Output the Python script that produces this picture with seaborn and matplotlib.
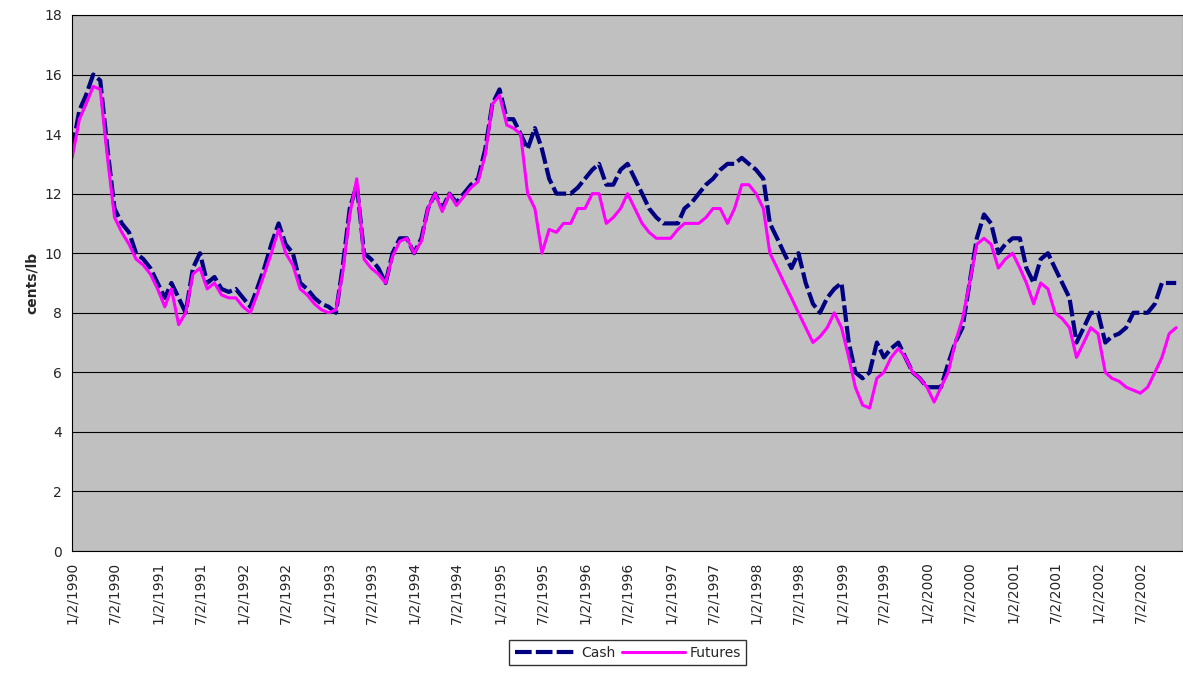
import matplotlib
matplotlib.use("Agg")
import matplotlib.pyplot as plt
import seaborn as sns
import pandas as pd

dates = pd.date_range("1990-01-01", periods=156, freq="MS") + pd.Timedelta(days=1)

cash = [13.5,14.8,15.3,16,15.8,13.5,11.5,11,10.7,10,9.8,9.5,
        9,8.5,9,8.5,8,9.5,10,9,9.2,8.8,8.7,8.8,
        8.5,8.2,8.8,9.5,10.3,11,10.3,10,9,8.8,8.5,8.3,
        8.2,8,9.5,11.5,12.3,10,9.8,9.5,9,10,10.5,10.5,
        10,10.5,11.5,12,11.5,12,11.7,12,12.3,12.5,13.5,15,
        15.5,14.5,14.5,14,13.5,14.2,13.5,12.5,12,12,12,12.2,
        12.5,12.8,13,12.3,12.3,12.8,13,12.5,12,11.5,11.2,11,
        11,11,11.5,11.7,12,12.3,12.5,12.8,13,13,13.2,13,
        12.8,12.5,11,10.5,10,9.5,10,9,8.3,8,8.5,8.8,
        9,7,6,5.8,6,7,6.5,6.8,7,6.5,6,5.8,
        5.5,5.5,5.5,6.3,7,7.5,9,10.5,11.3,11,10,10.3,
        10.5,10.5,9.5,9,9.8,10,9.5,9,8.5,7,7.5,8,
        8,7,7.2,7.3,7.5,8,8,8,8.3,9,9,9]

futures = [13.2,14.5,15,15.6,15.5,13.2,11.2,10.7,10.3,9.8,9.6,9.3,
           8.8,8.2,8.8,7.6,8,9.3,9.5,8.8,9,8.6,8.5,8.5,
           8.2,8,8.6,9.3,10,10.8,10,9.6,8.8,8.6,8.3,8.1,
           8,8.1,9.3,11.3,12.5,9.8,9.5,9.3,9,9.9,10.4,10.5,
           10,10.4,11.5,12,11.4,12,11.6,11.9,12.2,12.4,13.3,15,
           15.3,14.3,14.2,14,12,11.5,10,10.8,10.7,11,11,11.5,
           11.5,12,12,11,11.2,11.5,12,11.5,11,10.7,10.5,10.5,
           10.5,10.8,11,11,11,11.2,11.5,11.5,11,11.5,12.3,12.3,
           12,11.5,10,9.5,9,8.5,8,7.5,7,7.2,7.5,8,
           7.5,6.5,5.5,4.9,4.8,5.8,6,6.5,6.8,6.5,6,5.8,
           5.5,5,5.5,6,7,7.8,9,10.3,10.5,10.3,9.5,9.8,
           10,9.5,9,8.3,9,8.8,8,7.8,7.5,6.5,7,7.5,
           7.3,6,5.8,5.7,5.5,5.4,5.3,5.5,6,6.5,7.3,7.5]

df = pd.DataFrame({"date": dates, "Cash": cash, "Futures": futures})

sns.set_style("white")
fig = plt.figure(figsize=(11.83, 6.79), dpi=100)
ax = fig.add_axes([0.061, 0.1885, 0.939, 0.7895])
ax.set_facecolor("#C0C0C0")
sns.lineplot(data=df, x="date", y="Cash", ax=ax, color="#000080", lw=3,
             linestyle=(0, (4, 1)), label="Cash")
sns.lineplot(data=df, x="date", y="Futures", ax=ax, color="#FF00FF", lw=2.2, label="Futures")

ax.set_ylim(0, 18)
ax.set_yticks(range(0, 19, 2))
ax.set_xlim(pd.Timestamp("1990-01-02"), pd.Timestamp("2002-12-31"))
ticks = []
for y in range(1990, 2003):
    ticks += [pd.Timestamp(f"{y}-01-02"), pd.Timestamp(f"{y}-07-02")]
ax.set_xticks(ticks)
ax.set_xticklabels([f"{t.month}/{t.day}/{t.year}" for t in ticks], rotation=90, fontsize=10)
ax.tick_params(axis="y", labelsize=10)
ax.tick_params(axis="both", length=4, direction="out", color="black")
ax.grid(axis="y", color="black", lw=0.8)
ax.set_axisbelow(True)
for s in ax.spines.values():
    s.set_color("black")
ax.set_xlabel("")
ax.set_ylabel("cents/lb", fontsize=10, fontweight="bold")
leg = ax.legend(loc="center", bbox_to_anchor=(0.5, -0.19), ncol=2, frameon=True,
                fancybox=False, edgecolor="black", fontsize=10, handlelength=4.5,
                columnspacing=0.5, handletextpad=0.3)
fig.savefig("out.png", dpi=100)
